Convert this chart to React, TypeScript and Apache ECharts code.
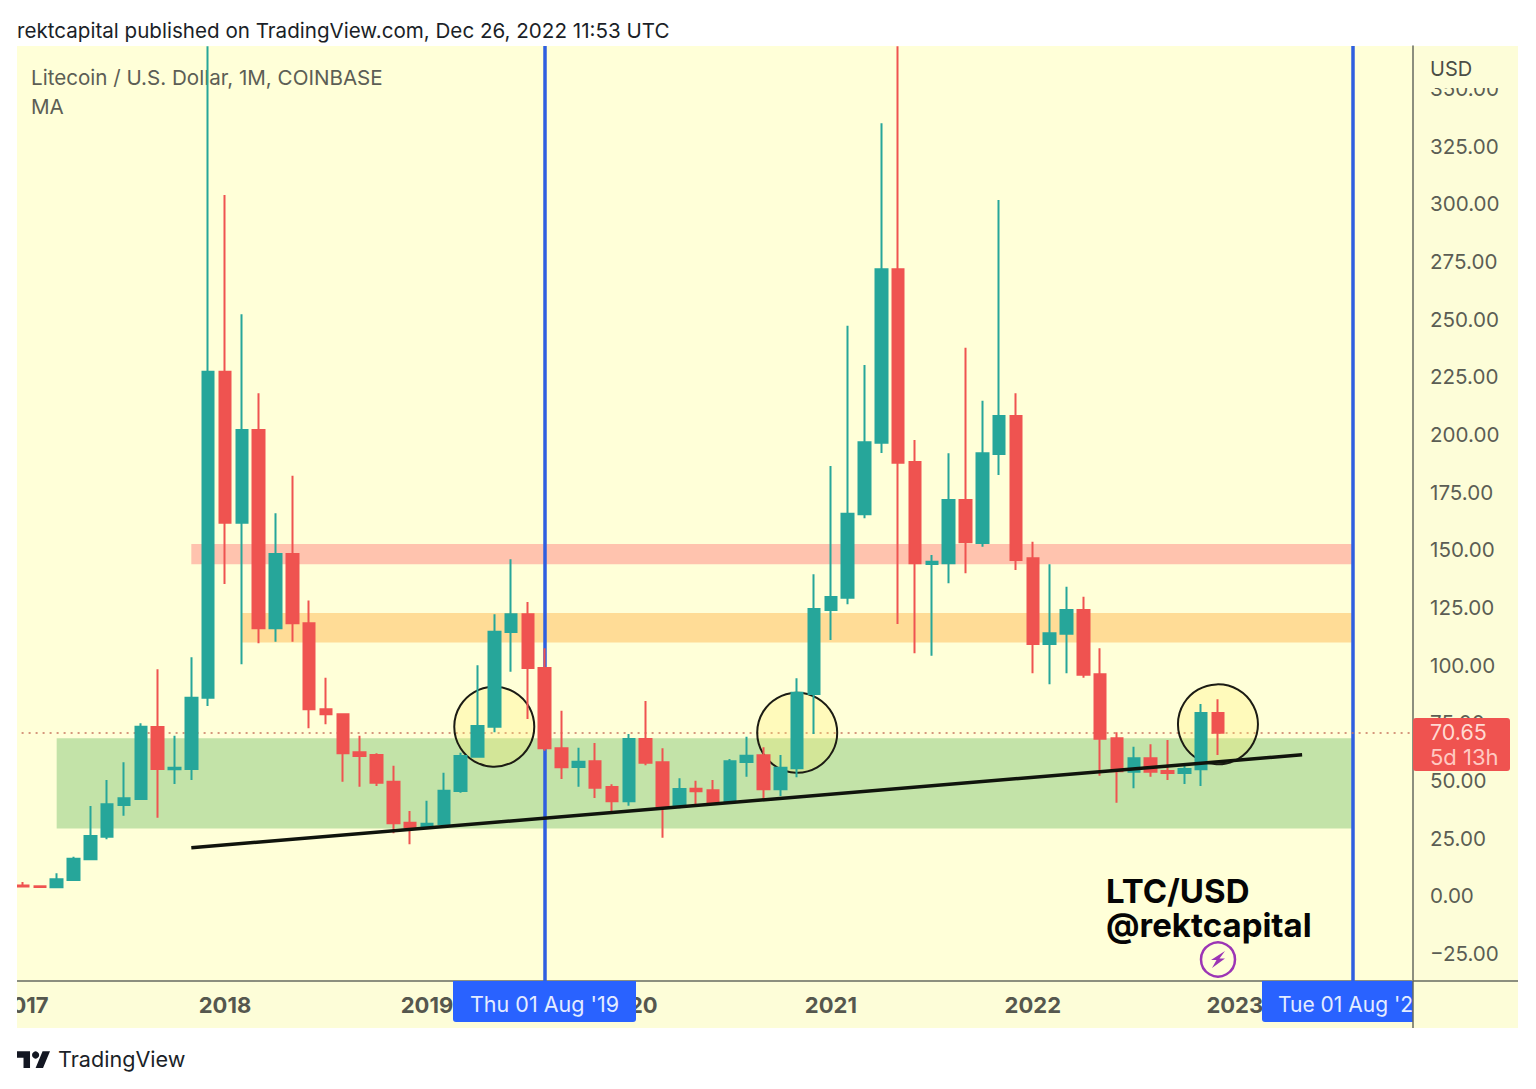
import React, { useEffect, useRef } from "react";
import * as echarts from "echarts";

const years = ["2017", "2018", "2019", "2020", "2021", "2022"];
const months = ["01", "02", "03", "04", "05", "06", "07", "08", "09", "10", "11", "12"];
const monthsOf2023 = ["01", "02", "03", "04", "05", "06", "07", "08", "09", "10", "11"];
const categories = [
  ...years.flatMap((y) => months.map((m) => `${y}-${m}`)),
  ...monthsOf2023.map((m) => `2023-${m}`),
];

// [open, close, low, high], one per month from Jan 2017
const candles = [
  [4.42, 3.99, 3.99, 5.94], [4.08, 3.77, 3.77, 4.08], [3.64, 7.11, 3.64, 9.71], [6.81, 16.05, 6.81, 16.91],
  [15.78, 25.89, 15.78, 38.9], [25.59, 39.64, 24.46, 50.17], [39.33, 42.24, 34.69, 57.85], [41.93, 73.29, 41.5, 74.76],
  [73.16, 54.94, 33.82, 98.18], [54.81, 55.51, 48.44, 69.38], [54.94, 85.86, 50.17, 103.38], [85.86, 227.23, 82.26, 368.4],
  [227.23, 161.75, 135.17, 303.86], [161.75, 201.95, 100.35, 252.12], [201.95, 115.96, 109.45, 217.87], [115.96, 148.18, 110.15, 165.83],
  [148.18, 118.13, 110.15, 182.13], [118.13, 80.83, 72.59, 128.06], [80.83, 78.66, 74.33, 94.54], [78.66, 61.75, 49.44, 79.1],
  [62.19, 60.58, 47.27, 69.38], [61.01, 49.0, 47.57, 61.75], [49.44, 31.4, 27.06, 56.37], [31.66, 29.66, 22.29, 36.73],
  [29.66, 31.22, 29.23, 41.2], [31.09, 45.53, 31.09, 53.34], [45.4, 60.58, 44.67, 62.01], [60.28, 73.59, 60.28, 99.91],
  [73.29, 114.48, 70.86, 122.03], [114.35, 122.03, 97.14, 145.88], [122.03, 98.74, 76.63, 127.36], [98.74, 63.92, 62.88, 107.28],
  [63.92, 55.68, 50.61, 80.23], [55.81, 58.11, 47.27, 64.18], [58.28, 46.83, 42.37, 66.22], [47.14, 40.94, 36.43, 48.31],
  [40.94, 67.95, 39.03, 70.12], [67.95, 57.68, 56.55, 84.43], [57.85, 38.9, 25.15, 63.92], [38.9, 46.27, 37.9, 50.91],
  [46.4, 45.27, 39.77, 49.87], [45.71, 40.63, 39.33, 50.17], [40.76, 58.28, 40.76, 59.28], [57.98, 60.71, 51.6, 68.95],
  [60.88, 46.14, 41.8, 64.35], [46.14, 55.51, 43.23, 61.01], [55.25, 88.03, 51.34, 94.28], [87.47, 124.33, 70.12, 139.38],
  [123.89, 129.52, 110.89, 186.34], [129.23, 165.65, 126.36, 247.18], [165.39, 196.62, 163.66, 230.14], [196.44, 271.64, 191.97, 334.95],
  [271.64, 187.77, 117.82, 368.4], [188.07, 144.14, 105.12, 197.62], [143.84, 144.84, 104.08, 147.74], [144.14, 171.6, 135.47, 191.85],
  [171.6, 153.25, 139.81, 237.64], [152.95, 191.85, 151.34, 214.66], [191.55, 208.02, 182.44, 301.69], [208.02, 145.58, 141.24, 217.87],
  [146.31, 109.15, 96.44, 153.51], [109.15, 113.79, 91.67, 143.71], [113.62, 123.89, 96.44, 134.0], [123.89, 95.84, 94.54, 129.66],
  [96.01, 68.08, 52.04, 107.28], [68.26, 53.95, 40.33, 70.86], [53.77, 59.58, 46.57, 64.61], [59.58, 53.77, 51.6, 65.65],
  [54.08, 53.21, 50.17, 67.52], [53.21, 54.94, 48.44, 56.98], [54.81, 79.23, 47.57, 83.13], [79.23, 70.69, 61.01, 85.17],
];

const yTicks = [-25, 0, 25, 50, 75, 100, 125, 150, 175, 200, 225, 250, 275, 300, 325, 350];
const lastPrice = 70.65;
const verticalDates = ["2019-08", "2023-08"];
const trendLine = [["2017-11", 20.8], ["2023-05", 61.1]];
const zones = [
  { from: "2017-03", to: "2023-08", low: 29.1, high: 68.3, color: "#C3E3A8" },
  { from: "2017-11", to: "2023-08", low: 143.7, high: 152.5, color: "#FFC3AE" },
  { from: "2018-02", to: "2023-08", low: 109.8, high: 122.6, color: "#FFDC96" },
];
const circles = [["2019-05", 73.3], ["2020-11", 70.7], ["2022-12", 74.3]];

const UI_FONT = "Inter, 'Liberation Sans', sans-serif";
const PANEL = "#FFFFD8";
const AXIS_PANEL = "#FDFDD8";
const TEAL = "#26A69A";
const RED = "#EF5350";
const BLUE = "#2962FF";

echarts.graphic.registerShape(
  "tvlogo",
  echarts.graphic.extendPath(
    "M14 22H7V11H0V4h14v18zM28 22h-8l7.5-18h8L28 22z",
    {}
  )
);

function text(
  t: string,
  x: number,
  y: number,
  size: number,
  fill: string,
  z: number,
  extra: any = {}
) {
  return {
    type: "text",
    z,
    silent: true,
    style: {
      text: t,
      x,
      y,
      fill,
      fontSize: size,
      fontFamily: UI_FONT,
      verticalAlign: "middle",
      ...extra,
    },
  };
}

export default function App() {
  const ref = useRef<HTMLDivElement>(null);
  useEffect(() => {
    const chart = echarts.init(ref.current!, undefined, { renderer: "svg" });
    chart.setOption({
      animation: false,
      backgroundColor: "#FFFFFF",
      grid: { left: 14.6, top: 46, width: 1396.9, height: 935, containLabel: false, outerBoundsMode: "none" },
      xAxis: {
        type: "category",
        data: categories,
        boundaryGap: true,
        axisTick: { show: false },
        splitLine: { show: false },
        axisLine: { onZero: false, lineStyle: { color: "#666A60", width: 1.5 } },
        axisLabel: {
          interval: (_i: number, v: string) => v.endsWith("-01"),
          formatter: (v: string) => v.slice(0, 4),
          color: "#55574E",
          fontFamily: UI_FONT,
          fontWeight: 700,
          fontSize: 22,
          margin: 13,
        },
      },
      yAxis: {
        type: "value",
        position: "right",
        offset: 1.5,
        min: -36.99,
        max: 368.47,
        splitLine: { show: false },
        axisTick: { show: false },
        axisLine: { show: true, lineStyle: { color: "#666A60", width: 1.5 } },
        axisLabel: {
          customValues: yTicks,
          formatter: (v: number) => (v < 0 ? "\u2212" + Math.abs(v).toFixed(2) : v.toFixed(2)),
          color: "#5B5D54",
          fontFamily: UI_FONT,
          fontSize: 20.6,
          margin: 17,
          align: "left",
        },
      },
      series: [
        {
          type: "candlestick",
          data: candles,
          barWidth: 12,
          z: 2,
          itemStyle: {
            color: TEAL,
            color0: RED,
            borderColor: TEAL,
            borderColor0: RED,
            borderWidth: 2,
          },
          markArea: {
            silent: true,
            z: 0,
            data: zones.map((a) => [
              { xAxis: a.from, yAxis: a.high, itemStyle: { color: a.color, opacity: 1 } },
              { xAxis: a.to, yAxis: a.low },
            ]),
          },
          markLine: {
            silent: true,
            z: 1,
            symbol: "none",
            label: { show: false },
            data: [
              ...verticalDates.map((d) => ({
                xAxis: d,
                lineStyle: { color: "#2F5FE0", width: 3.5, type: "solid" },
              })),
              {
                yAxis: lastPrice,
                lineStyle: { color: "#C8755F", width: 1.5, type: [2, 5] },
              },
            ],
          },
          markPoint: {
            silent: true,
            z: 1,
            symbol: "circle",
            symbolSize: 80,
            label: { show: false },
            itemStyle: {
              color: "rgba(255,236,110,0.28)",
              borderColor: "#1C1C14",
              borderWidth: 2,
            },
            data: circles.map(([d, v]) => ({ coord: [d, v] })),
          },
        },
        {
          type: "line",
          data: trendLine,
          z: 3,
          symbol: "none",
          silent: true,
          lineStyle: { color: "#10140C", width: 3.5 },
        },
      ],
      graphic: {
        elements: [
          // panels
          { type: "rect", z: -10, silent: true, shape: { x: 17, y: 46, width: 1396, height: 935 }, style: { fill: PANEL } },
          { type: "rect", z: -10, silent: true, shape: { x: 17, y: 981, width: 1501, height: 47 }, style: { fill: AXIS_PANEL } },
          { type: "rect", z: -10, silent: true, shape: { x: 1413, y: 46, width: 105, height: 982 }, style: { fill: AXIS_PANEL } },
          // masks
          { type: "rect", z: 90, silent: true, shape: { x: 0, y: 40, width: 17, height: 1000 }, style: { fill: "#FFFFFF" } },
          { type: "rect", z: 50, silent: true, shape: { x: 1415, y: 47, width: 103, height: 41 }, style: { fill: AXIS_PANEL } },
          // axis extensions
          { type: "line", z: 60, silent: true, shape: { x1: 1413, y1: 981, x2: 1518, y2: 981 }, style: { stroke: "#666A60", lineWidth: 1.5 } },
          { type: "line", z: 60, silent: true, shape: { x1: 1413, y1: 981, x2: 1413, y2: 1028 }, style: { stroke: "#666A60", lineWidth: 1.5 } },
          // header and legend
          text("rektcapital published on TradingView.com, Dec 26, 2022 11:53 UTC", 17, 30, 20.6, "#1B1F28", 60),
          text("Litecoin / U.S. Dollar, 1M, COINBASE", 31, 77, 20.6, "#5C5E55", 1),
          text("MA", 31, 106, 20.6, "#5C5E55", 1),
          text("USD", 1430, 69, 20, "#4B4D46", 60),
          // price label
          { type: "rect", z: 55, silent: true, shape: { x: 1413, y: 718, width: 97, height: 53, r: 3 }, style: { fill: RED } },
          text("70.65", 1430, 732, 21.5, "#FFDAD2", 60),
          text("5d 13h", 1430, 757, 22, "#FFC9C2", 60),
          // date labels
          { type: "rect", z: 55, silent: true, shape: { x: 453, y: 981, width: 183, height: 41, r: [0, 0, 3, 3] }, style: { fill: BLUE } },
          text("Thu 01 Aug '19", 544.5, 1004, 21.5, "#E4ECFF", 60, { align: "center" }),
          { type: "rect", z: 55, silent: true, shape: { x: 1262, y: 981, width: 151, height: 41, r: [0, 0, 0, 3] }, style: { fill: BLUE } },
          text("Tue 01 Aug '2", 1278, 1004, 21, "#E4ECFF", 60),
          // watermark
          text("LTC/USD", 1106, 891, 33, "#050505", 60, { fontWeight: 700 }),
          text("@rektcapital", 1106, 925, 33, "#050505", 60, { fontWeight: 700 }),
          { type: "circle", z: 60, silent: true, shape: { cx: 1218, cy: 959.5, r: 17 }, style: { fill: "transparent", stroke: "#9C35B5", lineWidth: 2.5 } },
          {
            type: "polygon",
            z: 60,
            silent: true,
            shape: { points: [[1225, 951], [1211, 960], [1216.5, 960], [1212, 968], [1225, 958.5], [1219.5, 958.5]] },
            style: { fill: "#9C35B5" },
          },
          // footer logo
          { type: "tvlogo", z: 60, silent: true, x: 17, y: 1047.5, scaleX: 0.93, scaleY: 0.93, style: { fill: "#131722" } },
          { type: "circle", z: 60, silent: true, shape: { cx: 35.6, cy: 1055, r: 3.6 }, style: { fill: "#131722" } },
          text("TradingView", 58, 1059, 21.6, "#1B1F28", 60),
        ],
      },
    });
    return () => chart.dispose();
  }, []);
  return (
    <div
      ref={ref}
      style={{ position: "absolute", left: 0, top: 0, width: 1536, height: 1089, background: "#fff" }}
    />
  );
}
